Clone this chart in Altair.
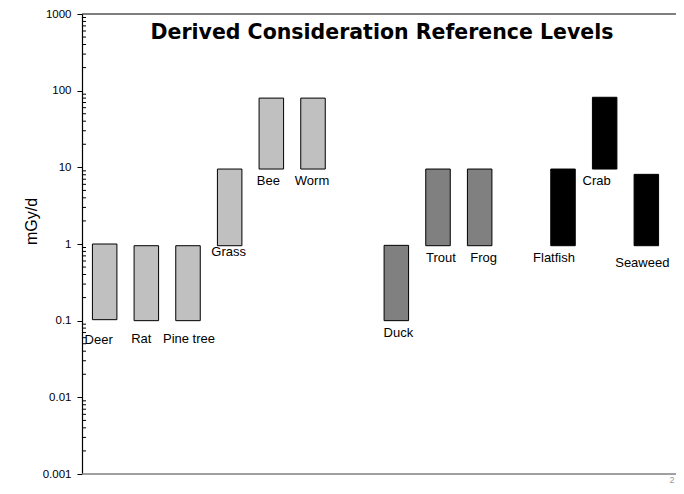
import altair as alt
import pandas as pd

# ---- data ----
names = ["Deer", "Rat", "Pine tree", "Grass", "Bee", "Worm",
         "Duck", "Trout", "Frog", "Flatfish", "Crab", "Seaweed"]
lows = [0.103, 0.1, 0.1, 0.95, 9.5, 9.5, 0.1, 0.95, 0.95, 0.95, 9.5, 0.95]
highs = [1.0, 0.95, 0.95, 9.5, 80, 80, 0.96, 9.5, 9.5, 9.5, 82, 8.1]
groups = ["terrestrial"] * 6 + ["freshwater"] * 3 + ["marine"] * 3

# category slots along x (two empty slots separate the groups)
slots = ["Deer", "Rat", "Pine tree", "Grass", "Bee", "Worm", " ",
         "Duck", "Trout", "Frog", "  ", "Flatfish", "Crab", "Seaweed"]

tick_values = [0.001, 0.01, 0.1, 1, 10, 100, 1000]
minor_ticks = [k * 10.0 ** e for e in range(-3, 3) for k in range(2, 10)]

title_text = "Derived Consideration Reference Levels"
y_title = "mGy/d"
page_number = "2"

# label nudges (pixels) – style only
label_dx = {"Deer": -6, "Rat": -5, "Pine tree": 1, "Grass": -1, "Bee": -3, "Worm": -1,
            "Duck": 2, "Trout": 3, "Frog": 4, "Flatfish": -9, "Crab": -8, "Seaweed": -4}
label_dy = {"Deer": 8, "Rat": 6, "Pine tree": 6, "Grass": -6, "Seaweed": 5}

group_domain = ["terrestrial", "freshwater", "marine"]
group_colors = ["#C0C0C0", "#808080", "#000000"]

PAD_TOP = 6
W, H = 587, 460
FONT = "Liberation Sans"
P_INNER, P_OUTER = 0.412, 0.25
STEP = W / (len(slots) - P_INNER + 2 * P_OUTER)
HALF_BAND = STEP * (1 - P_INNER) / 2

df = pd.DataFrame({"name": names, "low": lows, "high": highs, "group": groups})
df["ldx"] = [label_dx.get(n, 0) + HALF_BAND for n in names]
df["ldy"] = [label_dy.get(n, 0) for n in names]
df_minor = pd.DataFrame({"v": minor_ticks})

xscale = alt.Scale(domain=slots, paddingInner=P_INNER, paddingOuter=P_OUTER)
yscale = alt.Scale(type="log", domain=[0.001, 1000])
yaxis = alt.Axis(values=tick_values, format="~g", grid=False,
                 tickSize=5, tickColor="black", tickWidth=1,
                 domainColor="black", domainWidth=1.2,
                 labelFont=FONT, labelFontSize=11.5, labelColor="black",
                 labelPadding=6,
                 titleFont=FONT, titleFontSize=16, titleFontWeight="normal",
                 titleColor="black", titlePadding=3, titleY=221 - 8 - PAD_TOP)


def ych(field):
    return alt.Y(field, scale=yscale, axis=yaxis, title=y_title)


bars = alt.Chart(df).mark_bar(stroke="black", strokeWidth=1).encode(
    x=alt.X("name:N", scale=xscale, axis=None),
    y=ych("low:Q"),
    y2="high:Q",
    color=alt.Color("group:N", scale=alt.Scale(domain=group_domain, range=group_colors),
                    legend=None),
)

minor = alt.Chart(df_minor).mark_rule(color="black", strokeWidth=1).encode(
    y=ych("v:Q"),
    x=alt.value(0), x2=alt.value(4),
)

label_layers = []
for off in sorted(set(df["ldy"])):
    label_layers.append(
        alt.Chart(df).transform_filter(alt.datum.ldy == off).mark_text(
            baseline="top", align="center", font=FONT, fontSize=13,
            color="black", dy=6 + off).encode(
            x=alt.X("name:N", scale=xscale, axis=None),
            y=ych("low:Q"),
            xOffset=alt.XOffset("ldx:Q", scale=None),
            text="name:N",
        )
    )

top_line = alt.Chart(pd.DataFrame({"a": [0]})).mark_rule(color="black", strokeWidth=1.2).encode(
    x=alt.value(0), x2=alt.value(W + 7), y=alt.value(0))
bottom_line = alt.Chart(pd.DataFrame({"a": [0]})).mark_rule(color="#808080", strokeWidth=1.5).encode(
    x=alt.value(0), x2=alt.value(W + 7), y=alt.value(H))

title = alt.Chart(pd.DataFrame({"t": [title_text]})).mark_text(
    font="DejaVu Sans", fontWeight="bold", fontSize=20.5, color="black",
    align="center", baseline="middle").encode(
    x=alt.value(300), y=alt.value(33 - 8 - PAD_TOP), text="t:N")

pnum = alt.Chart(pd.DataFrame({"t": [page_number]})).mark_text(
    font=FONT, fontSize=9, color="#999999", align="center", baseline="middle").encode(
    x=alt.value(590), y=alt.value(H + 6), text="t:N")

chart = alt.layer(bars, minor, *label_layers, top_line, bottom_line, title, pnum).properties(
    width=W, height=H,
    padding={"left": 74, "top": PAD_TOP, "right": 7, "bottom": 12},
    autosize=alt.AutoSizeParams(type="none"),
    background="white",
).configure_view(stroke=None)

chart.save("out.html", embed_options={"renderer": "svg", "actions": False})
